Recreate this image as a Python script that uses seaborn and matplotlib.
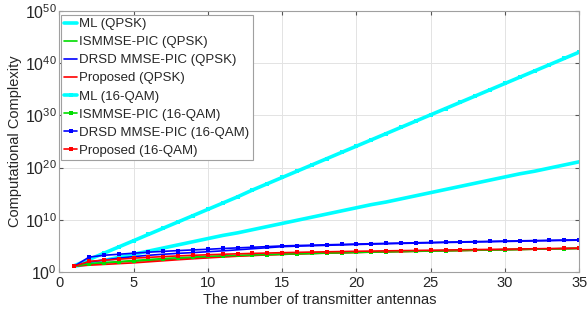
import seaborn as sns
import matplotlib.pyplot as plt
import matplotlib.ticker as mticker
import pandas as pd
import numpy as np

# antennas on the x axis
antennas = list(range(1, 36))

# log10 of the complexity
ml_qpsk = [1.1, 1.6, 2.2, 2.8, 3.4, 4.0, 4.6, 5.2, 5.8, 6.4, 7.0, 7.5, 8.1, 8.7, 9.3,
           9.9, 10.5, 11.1, 11.7, 12.3, 12.9, 13.4, 14.0, 14.6, 15.2, 15.8, 16.4, 17.0,
           17.6, 18.2, 18.8, 19.3, 19.9, 20.5, 21.1]
ismmse_qpsk = [1.1, 1.45, 1.7, 1.9, 2.05, 2.2, 2.36, 2.52, 2.67, 2.82, 2.96, 3.08, 3.19,
               3.29, 3.38, 3.47, 3.55, 3.62, 3.69, 3.75, 3.81, 3.87, 3.92, 3.97, 4.02,
               4.07, 4.12, 4.17, 4.22, 4.27, 4.32, 4.37, 4.42, 4.47, 4.52]
drsd_qpsk = [1.1, 1.9, 2.3, 2.65, 2.95, 3.2, 3.4, 3.57, 3.72, 3.88, 4.05, 4.25, 4.45,
             4.65, 4.85, 4.95, 5.03, 5.11, 5.19, 5.27, 5.34, 5.41, 5.47, 5.53, 5.59,
             5.65, 5.7, 5.75, 5.8, 5.85, 5.9, 5.95, 6.0, 6.05, 6.1]
prop_qpsk = [1.1, 1.3, 1.45, 1.6, 1.75, 1.95, 2.15, 2.35, 2.53, 2.7, 2.87, 3.02, 3.15,
             3.27, 3.37, 3.46, 3.54, 3.61, 3.68, 3.74, 3.8, 3.86, 3.91, 3.96, 4.01,
             4.06, 4.11, 4.16, 4.21, 4.26, 4.31, 4.36, 4.41, 4.46, 4.51]
ml_16qam = [1.2, 2.4, 3.6, 4.8, 6.0, 7.2, 8.4, 9.6, 10.8, 12.0, 13.2, 14.4, 15.7, 16.9,
            18.1, 19.3, 20.5, 21.7, 22.9, 24.1, 25.3, 26.5, 27.7, 28.9, 30.1, 31.3,
            32.5, 33.7, 34.9, 36.1, 37.3, 38.5, 39.7, 40.9, 42.1]
ismmse_16qam = [1.1, 1.6, 1.8, 2.0, 2.2, 2.4, 2.58, 2.73, 2.87, 3.0, 3.1, 3.19, 3.27,
                3.35, 3.42, 3.5, 3.57, 3.64, 3.7, 3.76, 3.82, 3.88, 3.93, 3.98, 4.03,
                4.08, 4.13, 4.18, 4.23, 4.28, 4.33, 4.38, 4.43, 4.48, 4.53]
drsd_16qam = [1.1, 2.85, 3.2, 3.4, 3.6, 3.8, 3.95, 4.1, 4.23, 4.35, 4.5, 4.62, 4.74,
              4.86, 5.0, 5.07, 5.14, 5.21, 5.28, 5.35, 5.42, 5.48, 5.54, 5.6, 5.66,
              5.72, 5.77, 5.82, 5.87, 5.92, 5.97, 6.02, 6.07, 6.12, 6.17]
prop_16qam = [1.1, 2.05, 2.25, 2.45, 2.65, 2.8, 2.95, 3.08, 3.2, 3.3, 3.4, 3.48, 3.56,
              3.63, 3.7, 3.76, 3.82, 3.87, 3.92, 3.97, 4.01, 4.05, 4.09, 4.13, 4.17,
              4.21, 4.25, 4.29, 4.33, 4.37, 4.41, 4.45, 4.49, 4.53, 4.57]

series = [
    ('ML (QPSK)', ml_qpsk),
    ('ISMMSE-PIC (QPSK)', ismmse_qpsk),
    ('DRSD MMSE-PIC (QPSK)', drsd_qpsk),
    ('Proposed (QPSK)', prop_qpsk),
    ('ML (16-QAM)', ml_16qam),
    ('ISMMSE-PIC (16-QAM)', ismmse_16qam),
    ('DRSD MMSE-PIC (16-QAM)', drsd_16qam),
    ('Proposed (16-QAM)', prop_16qam),
]
colors = ['#00ffff', '#00dd00', '#0000ff', '#ff0000'] * 2

rows = []
for name, vals in series:
    for n, v in zip(antennas, vals):
        rows.append({'antennas': n, 'complexity': 10.0 ** v, 'scheme': name})
df = pd.DataFrame(rows)

sns.set_style("whitegrid")
plt.rcParams['font.family'] = ['Liberation Sans', 'DejaVu Sans']
plt.rcParams['mathtext.fontset'] = 'custom'
plt.rcParams['mathtext.rm'] = 'Liberation Sans'

fig = plt.figure(figsize=(5.88, 3.2), dpi=100)
ax = fig.add_axes([0.101, 0.15, 0.884, 0.816])

for i, (name, _) in enumerate(series):
    sub = df[df['scheme'] == name]
    is_ml = name.startswith('ML')
    qam = '16-QAM' in name
    sns.lineplot(data=sub, x='antennas', y='complexity', ax=ax, label=name,
                 color=colors[i], lw=2.6 if is_ml else 1.2,
                 marker='s' if qam else None, markersize=3.5 if qam else 0,
                 markeredgewidth=0, estimator=None, sort=False)

ax.set_yscale('log')
ax.set_xlim(0, 35)
ax.set_ylim(1, 1e50)
ax.set_xticks(range(0, 36, 5))
ax.yaxis.set_major_locator(mticker.FixedLocator([10.0 ** k for k in range(0, 51, 10)]))
ax.yaxis.set_minor_locator(mticker.NullLocator())
ax.yaxis.set_major_formatter(mticker.LogFormatterSciNotation())

ax.grid(True, color='#e3e3e3', lw=0.7)
for s in ax.spines.values():
    s.set_color('#a0a0a0')
    s.set_linewidth(0.8)
ax.tick_params(direction='in', length=3, color='#555555', labelsize=10.5,
               labelcolor='#262626', top=True, right=True, bottom=True, left=True, pad=3)
ax.tick_params(axis='y', labelsize=11.5, pad=2)

ax.set_xlabel('The number of transmitter antennas', fontsize=10.5, color='#262626', labelpad=2)
ax.set_ylabel('Computational Complexity', fontsize=10.5, color='#262626', labelpad=2)

leg = ax.legend(loc='upper left', bbox_to_anchor=(0.0, 0.99), borderaxespad=0.1,
                fontsize=9.5, labelspacing=0.44, handlelength=1.0, handletextpad=0.15,
                borderpad=0.25, fancybox=False, framealpha=1, edgecolor='#a0a0a0')
leg.get_frame().set_linewidth(0.8)

plt.savefig('out.png', dpi=100)
